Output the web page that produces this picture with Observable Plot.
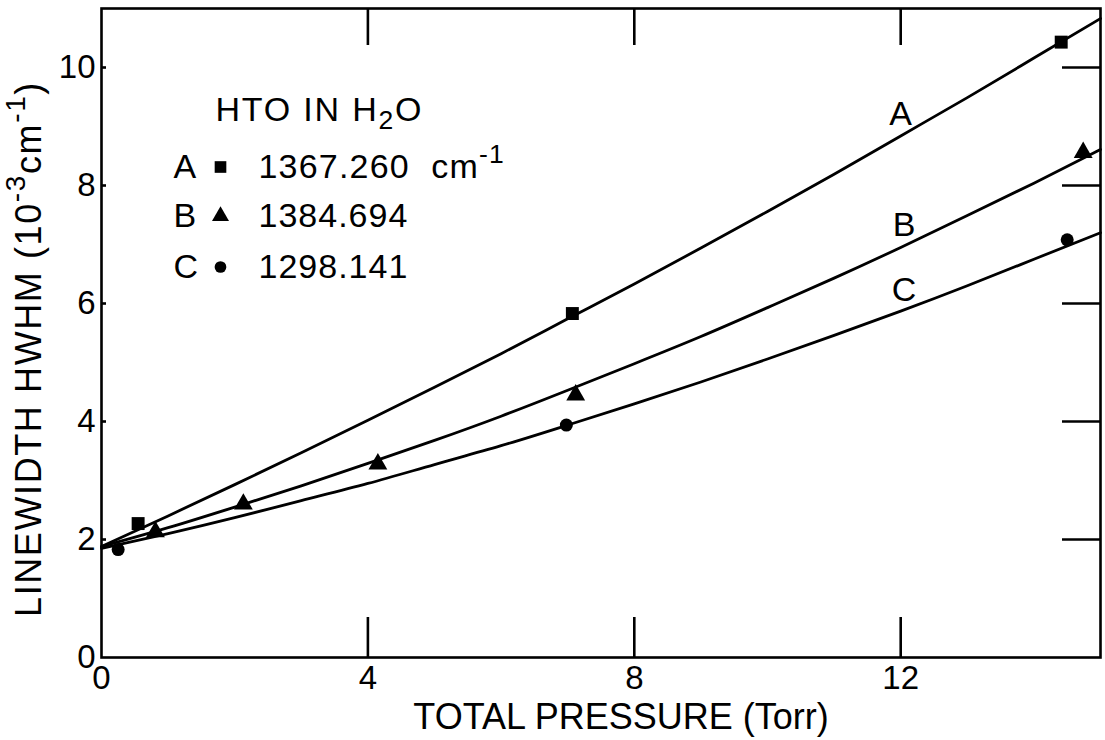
<!DOCTYPE html>
<html><head><meta charset="utf-8">
<script src="https://cdn.jsdelivr.net/npm/d3@7"></script>
<script src="https://cdn.jsdelivr.net/npm/@observablehq/plot@0.6"></script>
<style>body{margin:0;background:#fff}svg{display:block}</style>
</head><body><div id="chart"></div>
<script>
// ---- data ----
const curveX = [0,1,2,3,4,5,6,7,8,9,10,11,12,13,14,15];
const curveA = [1.88,2.40,2.93,3.47,4.02,4.58,5.15,5.74,6.33,6.94,7.56,8.19,8.84,9.49,10.16,10.83];
const curveB = [1.88,2.20,2.55,2.91,3.29,3.68,4.09,4.53,4.98,5.44,5.93,6.43,6.95,7.49,8.04,8.61];
const curveC = [1.85,2.10,2.37,2.66,2.95,3.27,3.59,3.94,4.30,4.67,5.06,5.46,5.87,6.30,6.75,7.20];

const pointsAX = [0.55, 7.07, 14.41];
const pointsAY = [2.27, 5.83, 10.43];
const pointsBX = [0.81, 2.13, 4.15, 7.12, 14.74];
const pointsBY = [2.13, 2.60, 3.28, 4.45, 8.56];
const pointsCX = [0.25, 6.98, 14.50];
const pointsCY = [1.83, 3.94, 7.08];

const xTicks = [0, 4, 8, 12];
const yTicks = [0, 2, 4, 6, 8, 10];
const seriesNames = ["A", "B", "C"];
const legendTitle = "HTO IN H_{2}O";
const legendValues = ["1367.260\u00A0 cm^{-1}", "1384.694", "1298.141"];
const xTitle = "TOTAL PRESSURE (Torr)";
const yTitle = "LINEWIDTH HWHM (10^{-3}cm^{-1})";

// ---- build ----
const W = 1105, H = 740, mL = 101, mR = 5, mT = 8, mB = 83;
const pw = W - mL - mR, ph = H - mT - mB;
const FONT = "'Liberation Sans', Arial, sans-serif";
const FS = 34;

const curveVals = [curveA, curveB, curveC];
const lineData = seriesNames.flatMap((s, k) => curveX.map((x, i) => ({s, x, y: curveVals[k][i]})));
const pts = (xs, ys) => xs.map((x, i) => ({x, y: ys[i]}));
const symbols = ["square", "triangle", "circle"];
const radii = [7.3, 7.0, 6.5];

const legendRowsY = [166.5, 215.5, 266.5];
const legendMarks = [];
const legText = (t, px, py) => Plot.text([t], {frameAnchor: "top-left", dx: px - mL, dy: py - mT, text: d => d, textAnchor: "start", lineAnchor: "middle", fontSize: FS});
legendMarks.push(legText(legendTitle, 215, 109.5));
seriesNames.forEach((s, i) => {
  legendMarks.push(legText(s, 173, legendRowsY[i]));
  legendMarks.push(Plot.dot([0], {frameAnchor: "top-left", dx: 220 - mL, dy: legendRowsY[i] - mT, symbol: symbols[i], r: radii[i] * 0.9, fill: "black", stroke: "none"}));
  legendMarks.push(legText(legendValues[i], 258, legendRowsY[i]));
});

const chart = Plot.plot({
  width: W, height: H,
  marginLeft: mL, marginRight: mR, marginTop: mT, marginBottom: mB,
  style: {fontFamily: FONT, fontSize: "32px", color: "black", background: "white"},
  x: {domain: [0, 15]},
  y: {domain: [0, 11]},
  marks: [
    Plot.frame({strokeWidth: 2.6}),
    Plot.tickX(xTicks.slice(1), {x: d => d, insetTop: ph - 40, strokeWidth: 2.6}),
    Plot.tickX(xTicks.slice(1), {x: d => d, insetBottom: ph - 37, strokeWidth: 2.6}),
    Plot.tickY(yTicks.slice(1), {y: d => d, insetLeft: pw - 38, strokeWidth: 2.6}),
    Plot.tickY(yTicks.slice(1), {y: d => d, insetRight: pw - 5, strokeWidth: 2.6}),
    Plot.axisX({ticks: xTicks, tickSize: 0, tickPadding: 8, label: null, fontSize: 33}),
    Plot.axisY({ticks: yTicks, tickSize: 0, tickPadding: 6, label: null, fontSize: 33}),
    Plot.line(lineData, {x: "x", y: "y", z: "s", curve: "natural", stroke: "black", strokeWidth: 2.8}),
    Plot.dot(pts(pointsAX, pointsAY), {x: "x", y: "y", symbol: "square", r: radii[0], fill: "black", stroke: "none"}),
    Plot.dot(pts(pointsBX, pointsBY), {x: "x", y: "y", symbol: "triangle", r: radii[1], fill: "black", stroke: "none"}),
    Plot.dot(pts(pointsCX, pointsCY), {x: "x", y: "y", symbol: "circle", r: radii[2], fill: "black", stroke: "none"}),
    Plot.text(seriesNames, {x: [12.0, 12.05, 12.05], y: [9.21, 7.33, 6.23], text: d => d, fontSize: FS}),
    ...legendMarks,
    Plot.text([xTitle], {frameAnchor: "bottom", dy: 60, dx: 20, text: d => d, textAnchor: "middle", lineAnchor: "middle", fontSize: 36}),
    Plot.text([yTitle], {frameAnchor: "left", dx: -72, dy: 16, rotate: -90, text: d => d, textAnchor: "middle", lineAnchor: "middle", fontSize: 36})
  ]
});
document.getElementById("chart").appendChild(chart);

// letter spacing for the hand-lettered look
const spaced = new Map([[legendTitle, 1.8], [legendValues[0], 1.2], [legendValues[1], 1], [legendValues[2], 1], [yTitle, 1.6]]);
d3.select(chart).selectAll("text").each(function () {
  const ls = spaced.get(this.textContent);
  if (ls) this.setAttribute("letter-spacing", ls);
});

// rich text: ^{sup} and _{sub}
d3.select(chart).selectAll("text").each(function () {
  const el = this, s = el.textContent;
  if (!/[\^_]\{/.test(s)) return;
  const fs = parseFloat(getComputedStyle(el).fontSize) || FS;
  const parts = [], re = /([\^_])\{([^}]*)\}/g;
  let last = 0, m;
  while ((m = re.exec(s))) {
    if (m.index > last) parts.push({t: s.slice(last, m.index), k: 0});
    parts.push({t: m[2], k: m[1] === "^" ? 1 : -1});
    last = re.lastIndex;
  }
  if (last < s.length) parts.push({t: s.slice(last), k: 0});
  while (el.firstChild) el.removeChild(el.firstChild);
  let cur = 0;
  for (const p of parts) {
    const ts = document.createElementNS("http://www.w3.org/2000/svg", "tspan");
    const target = p.k === 1 ? -0.45 * fs : p.k === -1 ? 0.25 * fs : 0;
    ts.setAttribute("dy", target - cur); cur = target;
    if (p.k) ts.setAttribute("font-size", 0.78 * fs);
    ts.textContent = p.t;
    el.appendChild(ts);
  }
});
</script></body></html>
